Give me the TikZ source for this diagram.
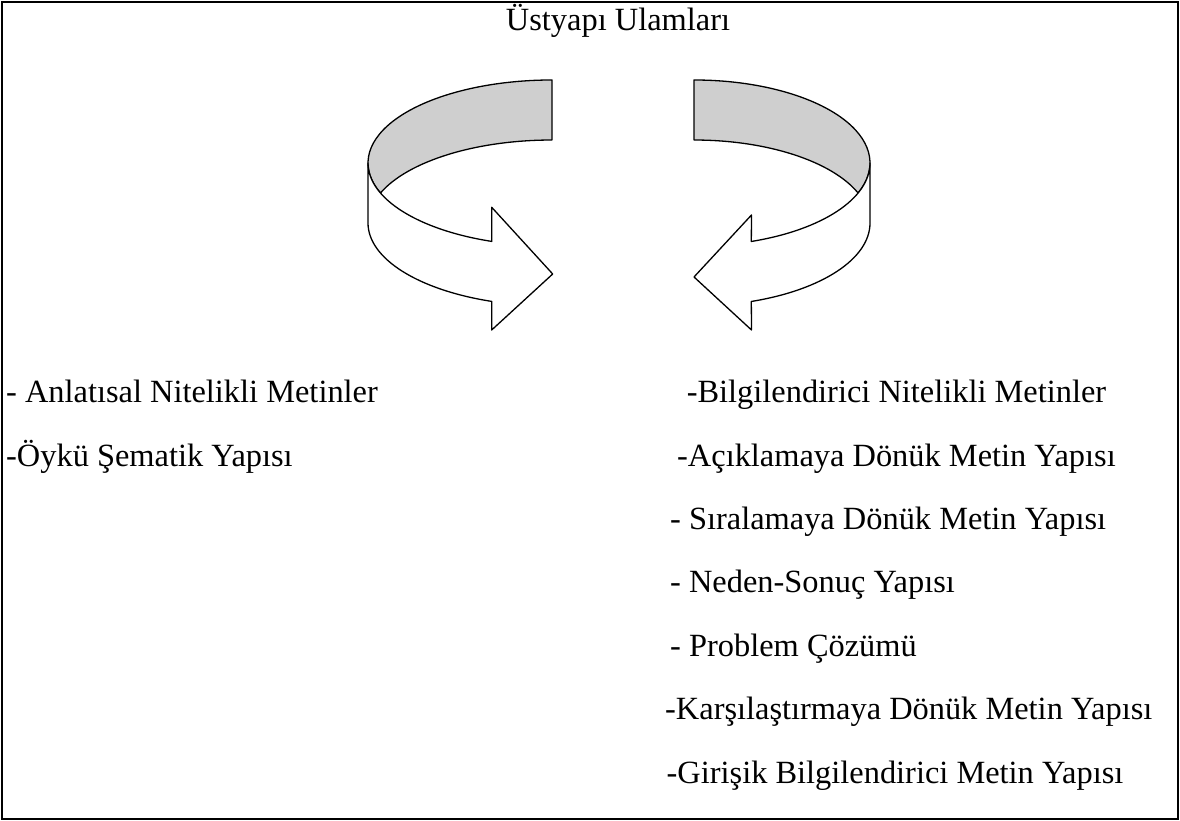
\documentclass[tikz,border=0pt]{standalone}
\usepackage{fontspec}
\setmainfont{Liberation Serif}
\usetikzlibrary{calc}
\definecolor{bandgray}{RGB}{207,207,207}

\begin{document}
\begin{tikzpicture}[x=1pt,y=1pt,
  band/.style={draw=black,line width=1.3pt,line join=round},
  label/.style={anchor=base west,inner sep=0pt,font=\fontsize{32.4}{38}\selectfont}]
  \useasboundingbox (0,0) rectangle (1180,821);
  % Frame
  \draw[line width=1.6pt] (2,2) rectangle (1178,819);
  % Title
  \node[label,anchor=base] (title) at (618,790) {Üstyapı Ulamları};
  % Left arrow
  \coordinate (lt) at (552,658);
  \coordinate (lb) at (552,598);
  \filldraw[band,fill=bandgray] ($(lt)+(0,83)$)
    arc[start angle=90,end angle=201.2,x radius=184,y radius=83]
    arc[start angle=158.8,end angle=90,x radius=184,y radius=83] -- cycle;
  \filldraw[band,fill=white] ($(lt)+(-184,0)$)
    arc[start angle=180,end angle=250.9,x radius=184,y radius=83]
    -- (491.7,613.7) -- (552.7,547) -- (491.7,491)
    -- ($(lb)+(250.9:184 and 83)$)
    arc[start angle=250.9,end angle=180,x radius=184,y radius=83] -- cycle;
  % Right arrow
  \coordinate (rt) at (694,658);
  \coordinate (rb) at (694,598);
  \filldraw[band,fill=bandgray] ($(rt)+(0,83)$)
    arc[start angle=90,end angle=-21.2,x radius=176,y radius=83]
    arc[start angle=21.2,end angle=90,x radius=176,y radius=83] -- cycle;
  \filldraw[band,fill=white] ($(rt)+(176,0)$)
    arc[start angle=0,end angle=-71,x radius=176,y radius=83]
    -- (751.5,606) -- (694,544) -- (751.5,491)
    -- ($(rb)+(-71:176 and 83)$)
    arc[start angle=-71,end angle=0,x radius=176,y radius=83] -- cycle;
  % Left list
  \node[label] (anl) at (6,418.3) {- Anlatısal Nitelikli Metinler};
  \node[label] (oyku) at (6,354.9) {-Öykü Şematik Yapısı};
  % Right list
  \foreach \xx/\txt [count=\i] in {686.6/-Bilgilendirici Nitelikli Metinler,
      677/-Açıklamaya Dönük Metin Yapısı,
      670/- Sıralamaya Dönük Metin Yapısı,
      670/- Neden-Sonuç Yapısı,
      670/- Problem Çözümü,
      665/-Karşılaştırmaya Dönük Metin Yapısı,
      666.5/-Girişik Bilgilendirici Metin Yapısı} {
    \node[label] (r\i) at (\xx,{418.3-63.4*(\i-1)}) {\txt};
  }
\end{tikzpicture}
\end{document}
